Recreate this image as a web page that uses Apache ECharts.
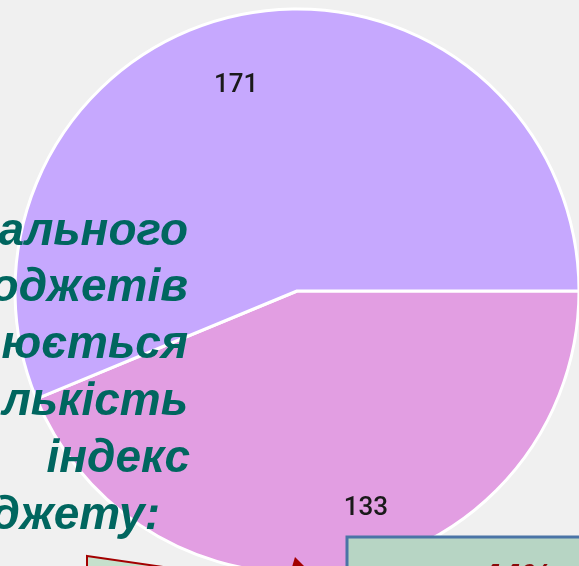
<!DOCTYPE html>
<html>
<head>
<meta charset="utf-8">
<script src="https://cdn.jsdelivr.net/npm/echarts@6/dist/echarts.min.js"></script>
<style>
  html, body { margin: 0; padding: 0; background: #f0f0f0; }
  #chart { width: 579px; height: 566px; }
</style>
</head>
<body>
<div id="chart"></div>
<script>
// дані кругової діаграми
var sliceNames = ['Частина 1', 'Частина 2'];
var sliceValues = [133, 171];
var sliceColors = ['#e29ee2', '#c6a8fe'];

// фрагменти тексту слайда (обрізані зліва)
var textLines = ['ального', 'оджетів', 'юється', 'лькість', 'індекс', 'джету:'];
var boxText = '44%';

var chart = echarts.init(document.getElementById('chart'));

var pieData = sliceValues.map(function (v, i) {
  return { name: sliceNames[i], value: v, itemStyle: { color: sliceColors[i] } };
});

// зміщення підписів, як на слайді
var labelOffsets = [[26, 2], [-18, 10]];
var labelData = sliceValues.map(function (v, i) {
  return {
    name: sliceNames[i], value: v,
    itemStyle: { color: 'rgba(0,0,0,0)' },
    label: { offset: labelOffsets[i] }
  };
});

var graphics = [];
var lineX = [188, 188, 188, 188, 190, 160];
textLines.forEach(function (t, i) {
  graphics.push({
    type: 'text',
    x: lineX[i],
    y: 255 + i * 56.8,
    z: 100,
    style: {
      text: t,
      fill: '#00665f',
      font: 'italic bold 46px "Liberation Sans", Arial, sans-serif',
      textAlign: 'right',
      textVerticalAlign: 'bottom'
    }
  });
});
// рамка зі стрілкою внизу ліворуч
graphics.push({
  type: 'polygon', z: 100,
  shape: { points: [[87, 556], [260, 581], [87, 620]] },
  style: { fill: '#c6e0cc', stroke: '#a30000', lineWidth: 2 }
});
graphics.push({
  type: 'polygon', z: 100,
  shape: { points: [[292, 567], [295, 557], [305, 567]] },
  style: { fill: '#a30000' }
});
// зелений блок праворуч
graphics.push({
  type: 'rect', z: 100,
  shape: { x: 347, y: 537, width: 260, height: 60 },
  style: { fill: '#b7d5c4', stroke: '#4a74a6', lineWidth: 3 }
});
graphics.push({
  type: 'text', z: 101,
  x: 480, y: 562,
  style: {
    text: boxText,
    fill: '#8b0a0a',
    font: 'italic bold 36px "Liberation Sans", Arial, sans-serif',
    textAlign: 'left',
    textVerticalAlign: 'top'
  }
});

var option = {
  backgroundColor: '#f0f0f0',
  animation: false,
  graphic: graphics,
  series: [
    {
      type: 'pie',
      center: [297, 291],
      radius: [0, 282],
      startAngle: 0,
      clockwise: true,
      silent: true,
      label: { show: false },
      labelLine: { show: false },
      itemStyle: { borderColor: '#ffffff', borderWidth: 3 },
      data: pieData
    },
    {
      type: 'pie',
      center: [297, 291],
      radius: [152, 282],
      startAngle: 0,
      clockwise: true,
      silent: true,
      label: {
        show: true,
        position: 'inside',
        formatter: '{c}',
        color: '#1a1a1a',
        fontSize: 26,
        fontFamily: 'Roboto, "Noto Sans", sans-serif',
        fontWeight: 500
      },
      labelLine: { show: false },
      data: labelData
    }
  ]
};

chart.setOption(option);
</script>
</body>
</html>
